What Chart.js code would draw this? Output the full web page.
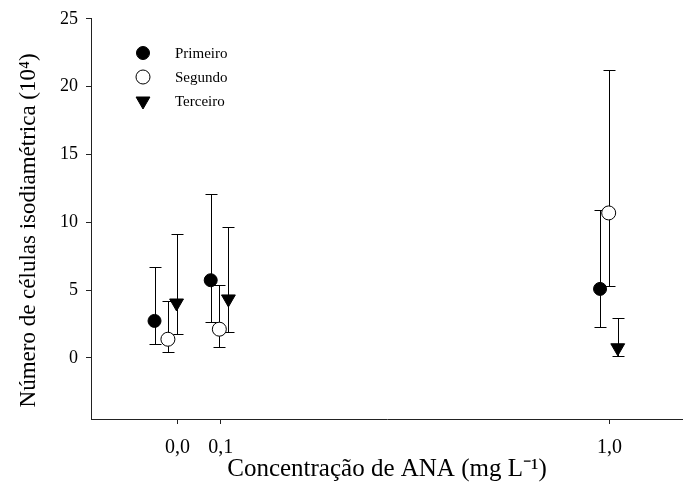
<!DOCTYPE html>
<html>
<head>
<meta charset="utf-8">
<script src="https://cdn.jsdelivr.net/npm/chart.js@4"></script>
<style>
  html, body { margin: 0; padding: 0; background: #fff; }
</style>
</head>
<body>
<canvas id="myChart" width="683" height="484"></canvas>
<script>
// Dados (x = concentração de ANA, y = número de células)
var seriesNames = ['Primeiro', 'Segundo', 'Terceiro'];
var xTicks = [0, 0.1, 1.0];
var yTicks = [0, 5, 10, 15, 20, 25];

var primeiroX = [-0.053, 0.077, 0.978];
var primeiroY = [2.73, 5.73, 5.09];
var primeiroHigh = [6.67, 12.12, 10.89];
var primeiroLow = [1.06, 2.65, 2.29];

var segundoX = [-0.022, 0.097, 0.998];
var segundoY = [1.38, 2.12, 10.69];
var segundoHigh = [4.2, 5.41, 21.22];
var segundoLow = [0.44, 0.81, 5.34];

var terceiroX = [-0.002, 0.118, 1.019];
var terceiroY = [4.05, 4.35, 0.75];
var terceiroHigh = [9.12, 9.66, 2.98];
var terceiroLow = [1.75, 1.92, 0.15];

function pts(xs, ys) {
    return xs.map(function (x, i) { return { x: x, y: ys[i] }; });
}

var serif = '"Liberation Serif", "Times New Roman", serif';

// barras de erro desenhadas antes dos pontos
var errorBars = {
    id: 'errorBars',
    beforeDatasetsDraw: function (chart) {
        var ctx = chart.ctx, xs = chart.scales.x, ys = chart.scales.y;
        ctx.save();
        ctx.strokeStyle = '#000';
        ctx.lineWidth = 1;
        chart.data.datasets.forEach(function (ds) {
            ds.data.forEach(function (p, i) {
                var px = Math.round(xs.getPixelForValue(p.x)) + 0.5;
                var top = Math.round(ys.getPixelForValue(ds.high[i])) + 0.5;
                var bot = Math.round(ys.getPixelForValue(ds.low[i])) + 0.5;
                ctx.beginPath();
                ctx.moveTo(px, top); ctx.lineTo(px, bot);
                ctx.moveTo(px - 6, top); ctx.lineTo(px + 6, top);
                ctx.moveTo(px - 6, bot); ctx.lineTo(px + 6, bot);
                ctx.stroke();
            });
        });
        ctx.restore();
    }
};

// legenda dentro da área do gráfico
var insideLegend = {
    id: 'insideLegend',
    afterDraw: function (chart) {
        var ctx = chart.ctx;
        ctx.save();
        ctx.font = '15px ' + serif;
        ctx.textBaseline = 'middle';
        chart.data.datasets.forEach(function (ds, i) {
            var y = 53 + i * 24;
            ctx.fillStyle = ds.backgroundColor;
            ctx.strokeStyle = ds.borderColor;
            ctx.lineWidth = ds.borderWidth;
            Chart.helpers.drawPoint(ctx, {
                pointStyle: ds.pointStyle,
                rotation: ds.pointRotation || 0,
                radius: ds.pointRadius,
                borderWidth: ds.borderWidth
            }, 143, y);
            ctx.fillStyle = '#000';
            ctx.fillText(ds.label, 175, y + 1);
        });
        ctx.restore();
    }
};

var ctx = document.getElementById('myChart').getContext('2d');
var chart = new Chart(ctx, {
    type: 'scatter',
    data: {
        datasets: [{
            label: seriesNames[0],
            data: pts(primeiroX, primeiroY),
            high: primeiroHigh,
            low: primeiroLow,
            pointStyle: 'circle',
            pointRadius: 6.5,
            backgroundColor: '#000',
            borderColor: '#000',
            borderWidth: 1
        }, {
            label: seriesNames[1],
            data: pts(segundoX, segundoY),
            high: segundoHigh,
            low: segundoLow,
            pointStyle: 'circle',
            pointRadius: 7,
            backgroundColor: '#fff',
            borderColor: '#000',
            borderWidth: 1
        }, {
            label: seriesNames[2],
            data: pts(terceiroX, terceiroY),
            high: terceiroHigh,
            low: terceiroLow,
            pointStyle: 'triangle',
            pointRotation: 180,
            pointRadius: 8,
            backgroundColor: '#000',
            borderColor: '#000',
            borderWidth: 1
        }]
    },
    options: {
        responsive: false,
        animation: false,
        devicePixelRatio: 1,
        layout: { autoPadding: false, padding: { top: 17, right: 0, left: 0, bottom: 0 } },
        plugins: {
            legend: { display: false },
            tooltip: { enabled: false }
        },
        scales: {
            x: {
                type: 'linear',
                min: -0.2,
                max: 1.17,
                afterBuildTicks: function (scale) {
                    scale.ticks = xTicks.map(function (v) { return { value: v }; });
                },
                afterFit: function (scale) {
                    scale.height = 65;
                    scale.paddingLeft = 0;
                    scale.paddingRight = 0;
                },
                ticks: {
                    color: '#000',
                    padding: 12,
                    maxRotation: 0,
                    font: { family: serif, size: 20 },
                    callback: function (v) { return Number(v).toFixed(1).replace('.', ','); }
                },
                grid: { drawOnChartArea: false, tickLength: 5, color: '#222' },
                border: { display: true, color: '#222', width: 1 },
                title: {
                    display: true,
                    text: 'Concentração de ANA (mg L\u207B\u00B9)',
                    color: '#000',
                    font: { family: serif, size: 25 },
                    padding: { top: 0, bottom: 0 }
                }
            },
            y: {
                min: -4.5,
                max: 25,
                afterBuildTicks: function (scale) {
                    scale.ticks = yTicks.map(function (v) { return { value: v }; });
                },
                afterFit: function (scale) { scale.width = 91; },
                ticks: {
                    color: '#000',
                    padding: 8,
                    font: { family: serif, size: 18 },
                    callback: function (v) { return String(v); }
                },
                grid: { drawOnChartArea: false, tickLength: 5, color: '#222' },
                border: { display: true, color: '#222', width: 1 },
                title: {
                    display: true,
                    text: 'Número de células isodiamétrica (10\u2074)\u00A0\u00A0\u00A0\u00A0',
                    color: '#000',
                    font: { family: serif, size: 23 },
                    padding: { top: 15, bottom: 0 }
                }
            }
        }
    },
    plugins: [errorBars, insideLegend]
});
</script>
</body>
</html>
